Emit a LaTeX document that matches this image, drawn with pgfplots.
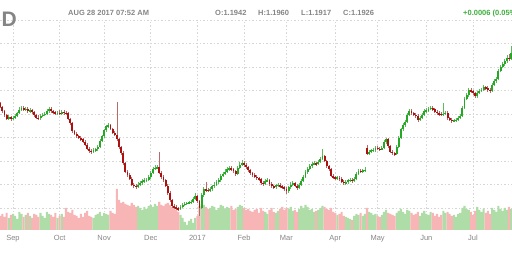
\documentclass[border=0pt]{standalone}
\usepackage{fontspec}
\setmainfont{Liberation Sans}
\usepackage{pgfplots}
\usepackage{pgfplotstable}
\pgfplotsset{compat=1.18}
\definecolor{upc}{HTML}{25A825}
\definecolor{dnc}{HTML}{AE1010}
\definecolor{upw}{HTML}{5DBB5D}
\definecolor{dnw}{HTML}{B86A6A}
\definecolor{upv}{HTML}{AEDDA8}
\definecolor{dnv}{HTML}{F7B5B5}
\definecolor{gridc}{HTML}{D6D6D6}
\definecolor{txt}{HTML}{858585}
\definecolor{pos}{HTML}{3DAE3D}

\pgfplotstableread{
i o h l c v
-6 1.1290 1.1305 1.1250 1.1262 14
-5 1.1262 1.1272 1.1212 1.1225 16
-4 1.1225 1.1236 1.1178 1.1190 13
-3 1.1190 1.1198 1.1148 1.1160 17
-2 1.1160 1.1190 1.1150 1.1172 12
-1 1.1172 1.1185 1.1143 1.1160 15
0 1.1160 1.1180 1.1146 1.1168 16
1 1.1168 1.1198 1.1155 1.1185 14
2 1.1185 1.1220 1.1172 1.1205 11
3 1.1205 1.1258 1.1196 1.1238 18
4 1.1238 1.1272 1.1225 1.1250 16
5 1.1250 1.1268 1.1222 1.1236 13
6 1.1236 1.1262 1.1224 1.1245 15
7 1.1245 1.1258 1.1210 1.1222 17
8 1.1222 1.1248 1.1209 1.1232 14
9 1.1232 1.1245 1.1200 1.1215 12
10 1.1215 1.1228 1.1178 1.1190 16
11 1.1190 1.1202 1.1155 1.1170 15
12 1.1170 1.1188 1.1148 1.1162 13
13 1.1162 1.1198 1.1150 1.1185 17
14 1.1185 1.1210 1.1172 1.1195 14
15 1.1195 1.1215 1.1180 1.1200 12
16 1.1200 1.1240 1.1188 1.1225 18
17 1.1225 1.1262 1.1212 1.1245 16
18 1.1245 1.1258 1.1210 1.1222 15
19 1.1222 1.1236 1.1200 1.1215 13
20 1.1215 1.1228 1.1190 1.1205 17
21 1.1205 1.1226 1.1192 1.1212 12
22 1.1212 1.1230 1.1190 1.1203 14
23 1.1203 1.1235 1.1190 1.1218 16
24 1.1218 1.1232 1.1195 1.1208 13
25 1.1208 1.1225 1.1188 1.1205 22
26 1.1205 1.1215 1.1148 1.1160 18
27 1.1160 1.1170 1.1105 1.1120 17
28 1.1120 1.1128 1.1040 1.1055 20
29 1.1055 1.1068 1.1018 1.1030 15
30 1.1030 1.1045 1.1000 1.1012 14
31 1.1012 1.1025 1.0985 1.0998 12
32 1.0998 1.1010 1.0970 1.0985 16
33 1.0985 1.0998 1.0952 1.0965 13
34 1.0965 1.0978 1.0925 1.0940 17
35 1.0940 1.0950 1.0890 1.0905 19
36 1.0905 1.0918 1.0872 1.0888 14
37 1.0888 1.0902 1.0862 1.0880 13
38 1.0880 1.0910 1.0868 1.0895 12
39 1.0895 1.0912 1.0878 1.0898 15
40 1.0898 1.0935 1.0885 1.0920 16
41 1.0920 1.0985 1.0910 1.0970 18
42 1.0970 1.1022 1.0958 1.1010 14
43 1.1010 1.1075 1.1000 1.1060 17
44 1.1060 1.1110 1.1048 1.1095 16
45 1.1095 1.1125 1.1085 1.1105 15
46 1.1105 1.1118 1.1062 1.1075 19
47 1.1075 1.1085 1.1028 1.1040 17
48 1.1040 1.1052 1.1012 1.1025 16
49 1.1025 1.1300 1.0970 1.0985 41
50 1.0985 1.0995 1.0905 1.0920 30
51 1.0920 1.0932 1.0855 1.0870 27
52 1.0870 1.0882 1.0765 1.0780 28
53 1.0780 1.0795 1.0695 1.0710 26
54 1.0710 1.0725 1.0665 1.0680 25
55 1.0680 1.0695 1.0635 1.0650 24
56 1.0650 1.0662 1.0585 1.0600 27
57 1.0600 1.0615 1.0572 1.0590 25
58 1.0590 1.0605 1.0565 1.0580 23
59 1.0580 1.0618 1.0568 1.0600 24
60 1.0600 1.0632 1.0588 1.0615 22
61 1.0615 1.0645 1.0600 1.0628 20
62 1.0628 1.0652 1.0612 1.0636 23
63 1.0636 1.0658 1.0620 1.0640 21
64 1.0640 1.0680 1.0628 1.0662 24
65 1.0662 1.0718 1.0650 1.0700 25
66 1.0700 1.0752 1.0688 1.0735 23
67 1.0735 1.0765 1.0720 1.0742 26
68 1.0742 1.0768 1.0728 1.0745 24
69 1.0745 1.0875 1.0690 1.0700 28
70 1.0700 1.0712 1.0650 1.0665 25
71 1.0665 1.0678 1.0620 1.0635 24
72 1.0635 1.0648 1.0575 1.0590 26
73 1.0590 1.0602 1.0515 1.0530 27
74 1.0530 1.0545 1.0450 1.0465 25
75 1.0465 1.0478 1.0400 1.0418 23
76 1.0418 1.0435 1.0392 1.0408 22
77 1.0408 1.0422 1.0380 1.0398 20
78 1.0398 1.0412 1.0375 1.0392 18
79 1.0392 1.0425 1.0380 1.0412 15
80 1.0412 1.0440 1.0400 1.0428 12
81 1.0428 1.0450 1.0420 1.0436 8
82 1.0436 1.0455 1.0428 1.0443 5
83 1.0443 1.0458 1.0432 1.0445 9
84 1.0445 1.0470 1.0436 1.0455 11
85 1.0455 1.0495 1.0445 1.0478 7
86 1.0478 1.0525 1.0468 1.0502 12
87 1.0502 1.0512 1.0445 1.0460 14
88 1.0460 1.0470 1.0335 1.0400 24
89 1.0400 1.0525 1.0390 1.0510 26
90 1.0510 1.0575 1.0498 1.0560 25
91 1.0560 1.0620 1.0540 1.0555 23
92 1.0555 1.0572 1.0535 1.0550 21
93 1.0550 1.0578 1.0540 1.0560 22
94 1.0560 1.0600 1.0548 1.0585 24
95 1.0585 1.0618 1.0570 1.0600 23
96 1.0600 1.0635 1.0588 1.0618 20
97 1.0618 1.0652 1.0605 1.0635 22
98 1.0635 1.0690 1.0620 1.0675 25
99 1.0675 1.0708 1.0660 1.0690 24
100 1.0690 1.0728 1.0678 1.0710 21
101 1.0710 1.0748 1.0698 1.0730 23
102 1.0730 1.0760 1.0718 1.0740 22
103 1.0740 1.0758 1.0712 1.0728 24
104 1.0728 1.0742 1.0698 1.0712 20
105 1.0712 1.0725 1.0675 1.0692 21
106 1.0692 1.0755 1.0682 1.0740 23
107 1.0740 1.0788 1.0728 1.0770 25
108 1.0770 1.0805 1.0760 1.0782 24
109 1.0782 1.0800 1.0750 1.0765 22
110 1.0765 1.0780 1.0732 1.0748 20
111 1.0748 1.0760 1.0708 1.0722 21
112 1.0722 1.0735 1.0680 1.0695 19
113 1.0695 1.0708 1.0668 1.0683 18
114 1.0683 1.0698 1.0652 1.0668 20
115 1.0668 1.0682 1.0638 1.0652 21
116 1.0652 1.0668 1.0630 1.0645 17
117 1.0645 1.0658 1.0598 1.0612 22
118 1.0612 1.0628 1.0590 1.0608 19
119 1.0608 1.0648 1.0595 1.0630 18
120 1.0630 1.0655 1.0618 1.0638 16
121 1.0638 1.0650 1.0590 1.0605 20
122 1.0605 1.0618 1.0570 1.0585 22
123 1.0585 1.0600 1.0562 1.0578 18
124 1.0578 1.0608 1.0565 1.0592 17
125 1.0592 1.0612 1.0580 1.0595 19
126 1.0595 1.0610 1.0572 1.0586 21
127 1.0586 1.0600 1.0560 1.0575 23
128 1.0575 1.0588 1.0545 1.0560 20
129 1.0560 1.0575 1.0520 1.0545 22
130 1.0545 1.0590 1.0532 1.0575 21
131 1.0575 1.0618 1.0562 1.0600 23
132 1.0600 1.0630 1.0590 1.0612 19
133 1.0612 1.0625 1.0575 1.0590 20
134 1.0590 1.0605 1.0555 1.0572 18
135 1.0572 1.0610 1.0560 1.0595 21
136 1.0595 1.0648 1.0585 1.0632 24
137 1.0632 1.0682 1.0620 1.0665 22
138 1.0665 1.0722 1.0652 1.0705 25
139 1.0705 1.0750 1.0692 1.0735 23
140 1.0735 1.0772 1.0722 1.0755 20
141 1.0755 1.0790 1.0742 1.0775 21
142 1.0775 1.0798 1.0762 1.0780 18
143 1.0780 1.0795 1.0760 1.0776 19
144 1.0776 1.0812 1.0765 1.0795 20
145 1.0795 1.0830 1.0782 1.0815 22
146 1.0815 1.0905 1.0805 1.0840 24
147 1.0840 1.0852 1.0788 1.0800 23
148 1.0800 1.0812 1.0740 1.0755 21
149 1.0755 1.0768 1.0715 1.0730 20
150 1.0730 1.0742 1.0660 1.0673 22
151 1.0673 1.0688 1.0645 1.0660 18
152 1.0660 1.0675 1.0640 1.0655 17
153 1.0655 1.0672 1.0642 1.0658 15
154 1.0658 1.0670 1.0632 1.0648 16
155 1.0648 1.0660 1.0612 1.0625 18
156 1.0625 1.0638 1.0598 1.0612 14
157 1.0612 1.0635 1.0600 1.0620 13
158 1.0620 1.0650 1.0608 1.0635 12
159 1.0635 1.0655 1.0622 1.0640 11
160 1.0640 1.0652 1.0615 1.0630 10
161 1.0630 1.0665 1.0618 1.0650 14
162 1.0650 1.0705 1.0638 1.0690 16
163 1.0690 1.0730 1.0678 1.0715 15
164 1.0715 1.0732 1.0698 1.0712 17
165 1.0712 1.0735 1.0700 1.0720 14
166 1.0720 1.0745 1.0705 1.0725 16
167 1.0910 1.0940 1.0850 1.0860 22
168 1.0860 1.0895 1.0848 1.0880 18
169 1.0880 1.0905 1.0868 1.0890 17
170 1.0890 1.0910 1.0878 1.0893 15
171 1.0893 1.0925 1.0880 1.0910 16
172 1.0910 1.0925 1.0892 1.0905 14
173 1.0905 1.0920 1.0888 1.0900 13
174 1.0900 1.0928 1.0890 1.0912 15
175 1.0912 1.0975 1.0902 1.0960 18
176 1.0960 1.1000 1.0948 1.0985 20
177 1.0985 1.0995 1.0912 1.0925 17
178 1.0925 1.0935 1.0868 1.0880 16
179 1.0880 1.0892 1.0850 1.0865 15
180 1.0865 1.0878 1.0842 1.0858 14
181 1.0858 1.0935 1.0850 1.0920 17
182 1.0920 1.1015 1.0910 1.1000 19
183 1.1000 1.1085 1.0990 1.1070 21
184 1.1070 1.1120 1.1058 1.1105 18
185 1.1105 1.1150 1.1092 1.1135 16
186 1.1135 1.1205 1.1125 1.1190 20
187 1.1190 1.1245 1.1180 1.1225 19
188 1.1225 1.1240 1.1192 1.1205 17
189 1.1205 1.1218 1.1180 1.1195 15
190 1.1195 1.1210 1.1170 1.1185 16
191 1.1185 1.1198 1.1135 1.1150 18
192 1.1150 1.1180 1.1140 1.1165 14
193 1.1165 1.1210 1.1155 1.1195 17
194 1.1195 1.1240 1.1185 1.1225 19
195 1.1225 1.1248 1.1212 1.1230 16
196 1.1230 1.1262 1.1220 1.1245 15
197 1.1245 1.1268 1.1232 1.1250 18
198 1.1250 1.1265 1.1228 1.1240 17
199 1.1240 1.1255 1.1205 1.1220 14
200 1.1220 1.1235 1.1195 1.1208 16
201 1.1208 1.1222 1.1185 1.1200 13
202 1.1200 1.1215 1.1180 1.1196 15
203 1.1196 1.1296 1.1185 1.1200 19
204 1.1200 1.1225 1.1188 1.1210 17
205 1.1210 1.1222 1.1152 1.1165 18
206 1.1165 1.1178 1.1138 1.1150 16
207 1.1150 1.1162 1.1125 1.1140 14
208 1.1140 1.1160 1.1128 1.1145 15
209 1.1145 1.1168 1.1132 1.1152 13
210 1.1152 1.1182 1.1140 1.1168 16
211 1.1168 1.1200 1.1155 1.1185 17
212 1.1185 1.1270 1.1175 1.1255 22
213 1.1255 1.1345 1.1245 1.1330 24
214 1.1330 1.1380 1.1318 1.1360 21
215 1.1360 1.1420 1.1348 1.1405 20
216 1.1405 1.1425 1.1380 1.1395 18
217 1.1395 1.1408 1.1362 1.1375 15
218 1.1375 1.1388 1.1335 1.1350 19
219 1.1350 1.1395 1.1340 1.1380 23
220 1.1380 1.1415 1.1368 1.1398 20
221 1.1398 1.1425 1.1385 1.1408 18
222 1.1408 1.1445 1.1395 1.1428 21
223 1.1428 1.1442 1.1405 1.1420 17
224 1.1420 1.1435 1.1390 1.1405 19
225 1.1405 1.1418 1.1380 1.1396 16
226 1.1396 1.1465 1.1385 1.1450 22
227 1.1450 1.1495 1.1440 1.1478 20
228 1.1478 1.1518 1.1465 1.1500 18
229 1.1500 1.1585 1.1490 1.1570 24
230 1.1570 1.1618 1.1558 1.1600 21
231 1.1600 1.1642 1.1588 1.1625 19
232 1.1625 1.1665 1.1612 1.1648 22
233 1.1648 1.1698 1.1635 1.1680 20
234 1.1680 1.1712 1.1655 1.1670 23
235 1.1670 1.1775 1.1660 1.1720 21
}\ohlc

\pgfplotsset{
  base/.style={scale only axis, width=512pt, height=210pt,
    at={(0pt,26pt)}, anchor=south west,
    xmin=-6.13, xmax=235.4,
    axis line style={draw=none}, tick style={draw=none}},
  wick/.style={mark=none, draw=none, fill=none, forget plot,
    error bars/y dir=both, error bars/y explicit, error bars/error mark=none,
    error bars/error bar style={draw=#1, line width=0.7pt}},
  body/.style={mark=none, draw=none, fill=none, forget plot,
    error bars/y dir=both, error bars/y explicit, error bars/error mark=none,
    error bars/error bar style={draw=#1, line width=1.9pt}},
}

\begin{document}
\begin{tikzpicture}[x=1pt,y=1pt]
\useasboundingbox (0,0) rectangle (512,256);
\clip (0,0) rectangle (512,256);

% grid and month labels
\begin{axis}[base, ymin=1.0213, ymax=1.20,
  ytick={1.04,1.06,...,1.20}, yticklabels={},
  xtick={0,22,43,65,87,109,129,152,172,195,217,238},
  xticklabels={Sep,Oct,Nov,Dec,2017,Feb,Mar,Apr,May,Jun,Jul,Aug},
  xticklabel style={font=\fontsize{7.5}{8}\selectfont, text=txt, anchor=base, yshift=-10.5pt},
  grid=major,
  major grid style={gridc, line width=0.8pt, dash pattern=on 1.6pt off 1.9pt}]
\end{axis}

% volume
\begin{axis}[base, ymin=0, ymax=210, xtick=\empty, ytick=\empty]
\addplot[ybar, bar width=1, bar shift=0pt, fill=upv, draw=none,
  restrict expr to domain={\thisrow{c}-\thisrow{o}}{0:1}]
  table[x=i, y=v] {\ohlc};
\addplot[ybar, bar width=1, bar shift=0pt, fill=dnv, draw=none,
  restrict expr to domain={\thisrow{c}-\thisrow{o}}{-1:-0.00001}]
  table[x=i, y=v] {\ohlc};
\end{axis}

% candles
\begin{axis}[base, ymin=1.0213, ymax=1.20, xtick=\empty, ytick=\empty]
\addplot[restrict expr to domain={\thisrow{c}-\thisrow{o}}{0:1}, wick=upw]
  table[x=i, y expr={(\thisrow{h}+\thisrow{l})/2}, y error expr={(\thisrow{h}-\thisrow{l})/2}] {\ohlc};
\addplot[restrict expr to domain={\thisrow{c}-\thisrow{o}}{-1:-0.00001}, wick=dnw]
  table[x=i, y expr={(\thisrow{h}+\thisrow{l})/2}, y error expr={(\thisrow{h}-\thisrow{l})/2}] {\ohlc};
\addplot[restrict expr to domain={\thisrow{c}-\thisrow{o}}{0:1}, body=upc]
  table[x=i, y expr={(\thisrow{o}+\thisrow{c})/2}, y error expr={max(abs(\thisrow{c}-\thisrow{o})/2,0.0004)}] {\ohlc};
\addplot[restrict expr to domain={\thisrow{c}-\thisrow{o}}{-1:-0.00001}, body=dnc]
  table[x=i, y expr={(\thisrow{o}+\thisrow{c})/2}, y error expr={max(abs(\thisrow{c}-\thisrow{o})/2,0.0004)}] {\ohlc};
\end{axis}

% header texts
\node[anchor=base west, inner sep=0pt, text=txt, font=\fontsize{21}{21}\selectfont\bfseries] at (1.5,229) {D};
\begin{scope}[every node/.style={anchor=base west, inner sep=0pt, text=txt, font=\fontsize{7.5}{9}\selectfont\bfseries}]
\node at (68,240) {AUG 28 2017 07:52 AM};
\node at (215,240) {O:1.1942};
\node at (258,240) {H:1.1960};
\node at (301,240) {L:1.1917};
\node at (343,240) {C:1.1926};
\node[text=pos] at (463,240) {+0.0006 (0.05\%)};
\end{scope}
\end{tikzpicture}
\end{document}
